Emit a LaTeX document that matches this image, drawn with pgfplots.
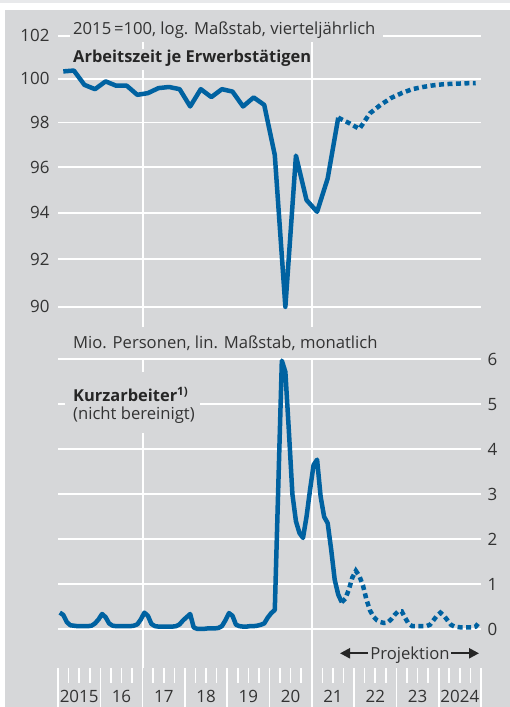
\documentclass[border=0pt]{standalone}
\usepackage{pgfplots}
\pgfplotsset{compat=1.18}
\usepackage{pgfplotstable}
\usepackage{fontspec}
\setmainfont{Open Sans}
\usetikzlibrary{arrows.meta}
\definecolor{bg}{RGB}{214,215,217}
\definecolor{topstrip}{RGB}{232,233,235}
\definecolor{bbblue}{RGB}{0,98,161}
\definecolor{txt}{RGB}{51,51,51}

% quarterly working time per employed person (2015 = 100); x in months since Jan 2015
\pgfplotstableread{
x y
1.5 100.34
4.5 100.38
7.5 99.72
10.5 99.52
13.5 99.88
16.5 99.68
19.5 99.68
22.5 99.26
25.5 99.34
28.5 99.57
31.5 99.62
34.5 99.52
37.5 98.73
40.5 99.52
43.5 99.16
46.5 99.52
49.5 99.41
52.5 98.73
55.5 99.14
58.5 98.80
61.5 96.54
64.5 90.00
67.5 96.51
70.5 94.55
73.5 94.04
76.5 95.50
79.5 98.22
}\azsolid
\pgfplotstableread{
x y
79.5 98.22
82.5 97.98
85.5 97.71
88.5 98.42
91.5 98.80
94.5 99.12
97.5 99.34
100.5 99.52
103.5 99.62
106.5 99.70
109.5 99.75
112.5 99.77
115.5 99.79
118.5 99.80
}\azproj

% monthly short-time workers (million persons)
\pgfplotstableread{
x y
0.5 0.37
1.5 0.32
2.5 0.16
3.5 0.09
4.5 0.08
5.5 0.07
6.5 0.07
7.5 0.07
8.5 0.07
9.5 0.08
10.5 0.13
11.5 0.22
12.5 0.34
13.5 0.27
14.5 0.13
15.5 0.08
16.5 0.07
17.5 0.07
18.5 0.07
19.5 0.07
20.5 0.07
21.5 0.08
22.5 0.11
23.5 0.22
24.5 0.37
25.5 0.30
26.5 0.12
27.5 0.07
28.5 0.06
29.5 0.06
30.5 0.06
31.5 0.06
32.5 0.06
33.5 0.07
34.5 0.11
35.5 0.20
36.5 0.27
37.5 0.34
38.5 0.04
39.5 0.01
40.5 0.01
41.5 0.01
42.5 0.02
43.5 0.02
44.5 0.02
45.5 0.03
46.5 0.07
47.5 0.20
48.5 0.36
49.5 0.30
50.5 0.10
51.5 0.07
52.5 0.06
53.5 0.06
54.5 0.07
55.5 0.07
56.5 0.08
57.5 0.10
58.5 0.13
59.5 0.26
60.5 0.36
61.5 0.43
62.5 3.20
63.5 5.97
64.5 5.72
65.5 4.40
66.5 3.00
67.5 2.40
68.5 2.14
69.5 2.03
70.5 2.50
71.5 3.10
72.5 3.65
73.5 3.77
74.5 2.95
75.5 2.50
76.5 2.36
77.5 1.77
78.5 1.10
79.5 0.77
80.5 0.60
}\kasolid
\pgfplotstableread{
x y
80.5 0.60
81.5 0.68
82.5 0.88
83.5 1.15
84.5 1.30
85.5 1.18
86.5 0.98
87.5 0.66
88.5 0.42
89.5 0.28
90.5 0.20
91.5 0.16
92.5 0.14
93.5 0.15
94.5 0.22
95.5 0.32
96.5 0.40
97.5 0.40
98.5 0.25
99.5 0.12
100.5 0.07
101.5 0.07
102.5 0.07
103.5 0.07
104.5 0.07
105.5 0.10
106.5 0.20
107.5 0.30
108.5 0.37
109.5 0.30
110.5 0.20
111.5 0.10
112.5 0.06
113.5 0.05
114.5 0.04
115.5 0.04
116.5 0.04
117.5 0.04
118.5 0.06
119.5 0.16
}\kaproj

\begin{document}
\begin{tikzpicture}[x=1bp,y=1bp]
\useasboundingbox (0,0) rectangle (510,707);
\fill[white] (0,0) rectangle (510,707);
\fill[topstrip] (0,704) rectangle (510,707);
\fill[bg] (5,0) rectangle (510,697);

\pgfplotsset{
  every axis/.append style={
    scale only axis, width=423bp, clip=false,
    xmin=0, xmax=120,
    axis line style={draw=none},
    grid style={white, line width=1.8bp},
    tick label style={font=\fontsize{17}{20}\selectfont, text=txt},
  },
}

% ---------- top panel ----------
\begin{axis}[
  at={(58bp,380bp)}, anchor=south west,
  height=291bp,
  ymode=log, ymin=89.17, ymax=102,
  ytick={90,92,94,96,98,100,102},
  yticklabels={90,92,94,96,98,100,102},
  xtick={24,72}, xticklabels={},
  xmajorgrids, ymajorgrids,
  major tick length=0pt,
  tick style={draw=none},
  yticklabel style={anchor=east, xshift=-5bp},
]
\fill[bg] (rel axis cs:0.028,0.979) rectangle (rel axis cs:0.768,1.07);
\fill[bg] (rel axis cs:0.028,0.883) rectangle (rel axis cs:0.595,0.955);
\addplot[bbblue, line width=4.5bp, line join=round] table[x=x,y=y] {\azsolid};
\addplot[bbblue, line width=4.5bp, dash pattern=on 5bp off 3.5bp] table[x=x,y=y] {\azproj};
\end{axis}

% ---------- bottom panel ----------
\begin{axis}[
  at={(58bp,39bp)}, anchor=south west,
  height=308.7bp,
  ymin=-0.86, ymax=6,
  ytick={0,1,2,3,4,5,6},
  yticklabels={0,1,2,3,4,5,6},
  yticklabel pos=right,
  xtick pos=left,
  xtick={24,72}, xticklabels={},
  minor xtick={0,12,36,48,60,84,96,108,120},
  extra x ticks={3,6,9,15,18,21,27,30,33,39,42,45,51,54,57,63,66,69,75,78,81,87,90,93,99,102,105,111,114,117},
  extra x tick labels={,2015,,,16,,,17,,,18,,,19,,,20,,,21,,,22,,,23,,,2024,},
  extra x tick style={major tick length=15bp, grid=none},
  xmajorgrids, ymajorgrids,
  tick align=outside,
  major tick length=39bp, minor tick length=39bp,
  x tick style={white, line width=1.6bp},
  y tick style={draw=none},
  yticklabel style={anchor=west, xshift=-36bp},
  xticklabel style={anchor=base, yshift=-19bp},
]
\fill[bg] (rel axis cs:0.0165,0.761) rectangle (rel axis cs:0.336,0.959);
\addplot[bbblue, line width=4.5bp, line join=round] table[x=x,y=y] {\kasolid};
\addplot[bbblue, line width=4.5bp, dash pattern=on 5bp off 3.5bp] table[x=x,y=y] {\kaproj};
\end{axis}

% ---------- texts ----------
\begin{scope}[every node/.style={font=\fontsize{16.7}{20}\selectfont, text=txt, inner sep=0pt}]
\node[anchor=base west] at (73,672) {2015\,=100, log. Maßstab, vierteljährlich};
\node[anchor=base west, font=\fontsize{16.5}{20}\selectfont\bfseries, text=black!85] at (73,644) {Arbeitszeit je Erwerbstätigen};
\node[anchor=base west] at (73,358.7) {Mio. Personen, lin. Maßstab, monatlich};
\node[anchor=base west, font=\fontsize{16.5}{20}\selectfont\bfseries, text=black!85] at (73,305.3) {Kurzarbeiter\textsuperscript{1)}};
\node[anchor=base west] at (73,287) {(nicht bereinigt)};
\node[anchor=base] at (410,47.7) {Projektion};
\end{scope}
\draw[black!85, line width=2.2bp, -{Triangle[length=10bp,width=10bp]}] (368,53.7) -- (340,53.7);
\draw[black!85, line width=2.2bp, -{Triangle[length=10bp,width=10bp]}] (451,53.7) -- (479,53.7);
\end{tikzpicture}
\end{document}
